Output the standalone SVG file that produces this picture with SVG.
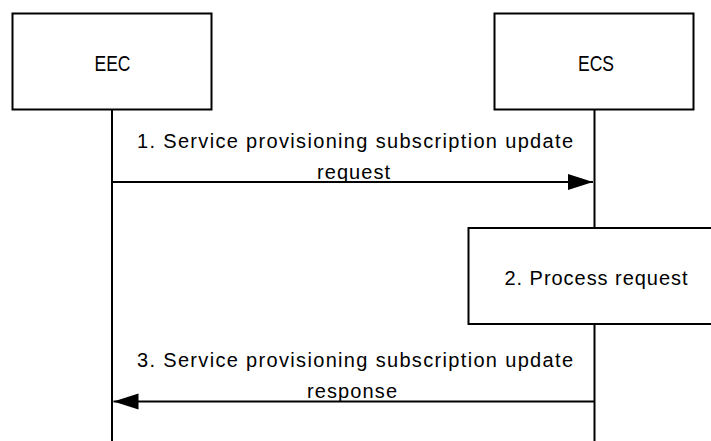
<svg xmlns="http://www.w3.org/2000/svg" width="711" height="441" viewBox="0 0 711 441">
<defs>
<style>
.box{fill:#fff;stroke:#000;stroke-width:2}
.life{stroke:#000;stroke-width:2;fill:none}
.msg{stroke:#000;stroke-width:2;fill:none}
.t{font-family:"Liberation Sans",Arial,sans-serif;font-size:20px;fill:#000}
.h{font-size:22px}
</style>
<marker id="ah" markerUnits="userSpaceOnUse" markerWidth="26" markerHeight="18" refX="25" refY="8" orient="auto">
<path d="M0,0 L25,8 L0,16 z" fill="#000"/>
</marker>
</defs>
<rect width="711" height="441" fill="#fff"/>
<g id="lifelines">
<line class="life" x1="112" y1="110" x2="112" y2="441"/>
<line class="life" x1="594.5" y1="110" x2="594.5" y2="441"/>
</g>
<g id="EEC">
<rect class="box" x="12.5" y="13.5" width="199" height="96"/>
<text class="t h" x="112.5" y="71" text-anchor="middle" textLength="36" lengthAdjust="spacingAndGlyphs">EEC</text>
</g>
<g id="ECS">
<rect class="box" x="494.5" y="13.5" width="199" height="96"/>
<text class="t h" x="596" y="71" text-anchor="middle" textLength="36" lengthAdjust="spacingAndGlyphs">ECS</text>
</g>
<g id="process">
<rect class="box" x="468.5" y="228" width="260" height="96"/>
<text class="t" x="504.5" y="285" textLength="183" lengthAdjust="spacing">2. Process request</text>
</g>
<g id="connectors">
<line class="msg" x1="112" y1="182" x2="593" y2="182" marker-end="url(#ah)"/>
<line class="msg" x1="594.5" y1="401.5" x2="113.5" y2="401.5" marker-end="url(#ah)"/>
</g>
<g id="labels">
<text class="t" x="137" y="148" textLength="436" lengthAdjust="spacing">1. Service provisioning subscription update</text>
<text class="t" x="317" y="178.5" textLength="73" lengthAdjust="spacing">request</text>
<text class="t" x="137" y="366.5" textLength="436" lengthAdjust="spacing">3. Service provisioning subscription update</text>
<text class="t" x="307" y="397.5" textLength="90" lengthAdjust="spacing">response</text>
</g>
</svg>
